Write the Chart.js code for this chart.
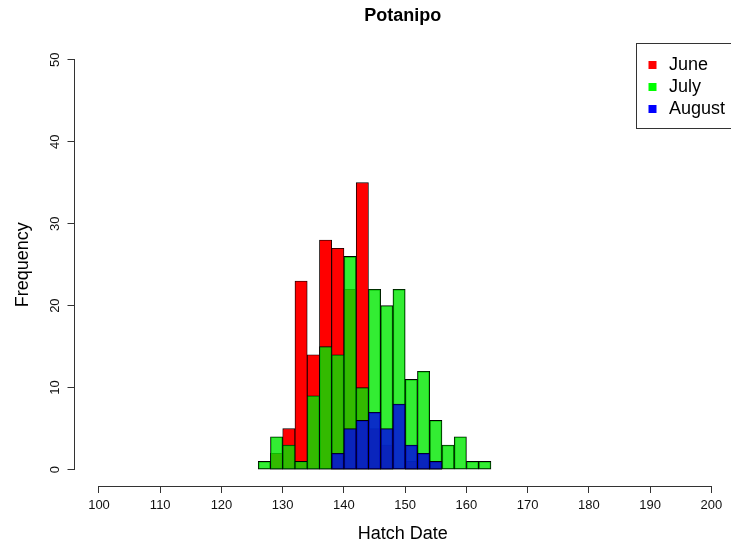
<!DOCTYPE html>
<html>
<head>
<meta charset="utf-8">
<script src="https://cdn.jsdelivr.net/npm/chart.js@4.4.0/dist/chart.umd.min.js"></script>
<style>
html,body{margin:0;padding:0;background:#fff;overflow:hidden}
#wrap{position:relative;width:731px;height:550px}
</style>
</head>
<body>
<div id="wrap"><canvas id="c" width="731" height="550"></canvas></div>
<script>
// ---- data ----
const binStarts = [126,128,130,132,134,136,138,140,142,144,146,148,150,152,154,156,158,160,162];
const binWidth = 2;
const seriesNames = ['June', 'July', 'August'];
const june   = [0,2,5,23,14,28,27,22,35,5,3,0,1,2,1,0,0,0,0];
const july   = [1,4,3,1,9,15,14,26,10,22,20,22,11,12,6,3,4,1,1];
const august = [0,0,0,0,0,0,2,5,6,7,5,8,3,2,1,0,0,0,0];
const xTicks = [100,110,120,130,140,150,160,170,180,190,200];
const yTicks = [0,10,20,30,40,50];

// ---- styles ----
const fillColors = ['#FF0000', 'rgba(0,232,0,0.8)', 'rgba(0,0,235,0.8)'];
const legendColors = ['#FF0000', '#00FF00', '#0000FF'];
const FONT = "'Liberation Sans', Arial, sans-serif";
Chart.defaults.font.family = FONT;

function toPoints(vals) {
  return binStarts.map((s, i) => ({ x: s + binWidth / 2, y: vals[i] > 0 ? vals[i] : null }));
}

const axisLines = {
  id: 'axisLines',
  afterDraw(chart) {
    const { ctx, chartArea, scales: { x, y } } = chart;
    ctx.save();
    ctx.strokeStyle = '#333';
    ctx.lineWidth = 1;
    ctx.beginPath();
    const lx = Math.floor(chartArea.left) + 0.5;
    ctx.moveTo(lx, y.getPixelForValue(yTicks[0]));
    ctx.lineTo(lx, y.getPixelForValue(yTicks[yTicks.length - 1]));
    const by = Math.floor(chartArea.bottom) + 0.5;
    ctx.moveTo(x.getPixelForValue(xTicks[0]), by);
    ctx.lineTo(x.getPixelForValue(xTicks[xTicks.length - 1]), by);
    ctx.stroke();
    ctx.restore();
  }
};

const rLegend = {
  id: 'rLegend',
  afterDraw(chart) {
    const { ctx, chartArea } = chart;
    ctx.save();
    const top = Math.round(chartArea.top) + 0.5;
    ctx.strokeStyle = '#333';
    ctx.lineWidth = 1;
    ctx.strokeRect(636.5, top, 140, 85);
    ctx.font = '18px ' + FONT;
    ctx.textBaseline = 'middle';
    ctx.textAlign = 'left';
    seriesNames.forEach((name, i) => {
      const cy = top + 21.5 + i * 22;
      ctx.fillStyle = legendColors[i];
      ctx.fillRect(648.5, cy - 4, 8, 8);
      ctx.fillStyle = '#000';
      ctx.fillText(name, 669, cy);
    });
    ctx.restore();
  }
};

new Chart(document.getElementById('c'), {
  type: 'bar',
  data: {
    datasets: [june, july, august].map((vals, i) => ({
      label: seriesNames[i],
      data: toPoints(vals),
      backgroundColor: fillColors[i],
      borderColor: '#000',
      borderWidth: 0.85,
      borderSkipped: false,
      grouped: false,
      order: 3 - i,
      barPercentage: 1,
      categoryPercentage: 1
    }))
  },
  options: {
    responsive: false,
    animation: false,
    devicePixelRatio: 1,
    events: [],
    layout: { padding: 0 },
    plugins: {
      legend: { display: false },
      tooltip: { enabled: false },
      title: {
        display: true,
        text: 'Potanipo',
        fullSize: false,
        color: '#000',
        font: { size: 18, weight: 'bold', family: FONT },
        padding: { top: 5, bottom: 16.7 }
      }
    },
    scales: {
      x: {
        type: 'linear',
        min: 96,
        max: 203.2,
        offset: false,
        afterBuildTicks: s => { s.ticks = xTicks.map(v => ({ value: v })); },
        afterFit: s => { s.height = 64; },
        grid: { display: true, offset: false, drawOnChartArea: false, drawTicks: true, tickLength: 7, color: '#333', tickColor: '#333', lineWidth: 1 },
        border: { display: false },
        ticks: { color: '#111', font: { size: 13 }, padding: 5, maxRotation: 0, minRotation: 0, autoSkip: false },
        title: { display: true, text: 'Hatch Date', color: '#000', font: { size: 18 }, padding: { top: 0, bottom: 5 } }
      },
      y: {
        type: 'linear',
        min: -2,
        max: 52,
        afterBuildTicks: s => { s.ticks = yTicks.map(v => ({ value: v })); },
        afterFit: s => { s.width = 74.5; },
        grid: { display: true, offset: false, drawOnChartArea: false, drawTicks: true, tickLength: 7, color: '#333', tickColor: '#333', lineWidth: 1 },
        border: { display: false },
        ticks: { color: '#111', font: { size: 13 }, padding: 5, minRotation: 90, maxRotation: 90, crossAlign: 'center', autoSkip: false },
        title: { display: true, text: 'Frequency', color: '#000', font: { size: 18 }, padding: { top: 12.7, bottom: 0 } }
      }
    }
  },
  plugins: [axisLines, rLegend]
});
</script>
</body>
</html>
